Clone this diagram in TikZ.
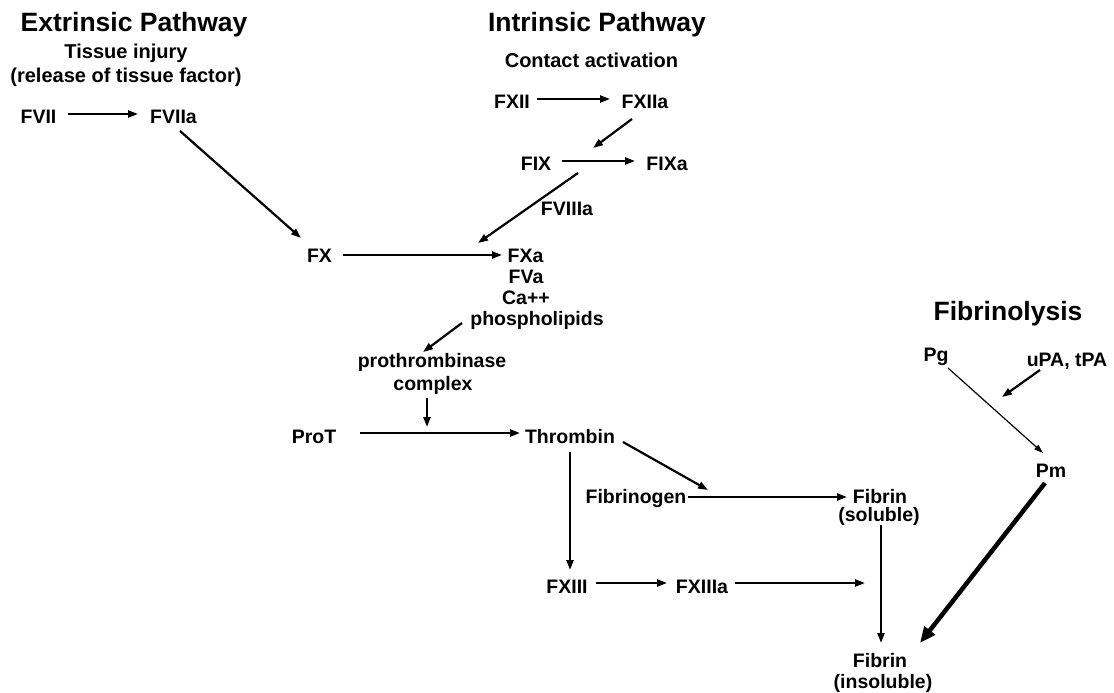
\documentclass[tikz,border=0pt]{standalone}
\usepackage{fontspec}
\setmainfont{Liberation Sans}
\usetikzlibrary{arrows.meta}
\tikzset{
  lbl/.style={font=\fontsize{19.5}{20}\selectfont\bfseries, inner sep=0pt, text height=14pt, text depth=0pt, anchor=base},
  ttl/.style={font=\fontsize{26.5}{28}\selectfont\bfseries, inner sep=0pt, anchor=base},
  sub/.style={font=\fontsize{20}{22}\selectfont\bfseries, inner sep=0pt, anchor=base},
  arr/.style={line width=2.2pt, -{Triangle[length=10pt,width=7pt]}},
  thinarr/.style={line width=1.2pt, -{Triangle[length=9pt,width=6pt]}},
  thickarr/.style={line width=4.5pt, -{Triangle[length=16pt,width=13pt]}},
}
\begin{document}
\begin{tikzpicture}[x=1pt,y=-1pt]
\useasboundingbox[fill=white] (0,0) rectangle (1114,693);
% titles
\node[ttl] (ext) at (134,32) {Extrinsic Pathway};
\node[sub] (tis) at (126,59) {Tissue injury};
\node[sub] (rel) at (126,83) {(release of tissue factor)};
\node[ttl] (intr) at (597,32) {Intrinsic Pathway};
\node[sub] (con) at (591.5,67) {Contact activation};
\node[ttl] (fibl) at (1008,320) {Fibrinolysis};
% labels
\node[lbl] (fvii) at (38.5,123) {FVII};
\node[lbl] (fviia) at (173.5,123) {FVIIa};
\node[lbl] (fxii) at (512,108) {FXII};
\node[lbl] (fxiia) at (645,108) {FXIIa};
\node[lbl] (fix) at (536,170) {FIX};
\node[lbl] (fixa) at (667,170) {FIXa};
\node[lbl] (fviiia) at (567,215) {FVIIIa};
\node[lbl] (fx) at (319.5,262) {FX};
\node[lbl] (fxa) at (525.5,262) {FXa};
\node[lbl] (fva) at (526,283) {FVa};
\node[lbl] (ca) at (526,304) {Ca++};
\node[lbl] (phos) at (537,325) {phospholipids};
\node[lbl] (proth) at (432,367) {prothrombinase};
\node[lbl] (cplx) at (433,390) {complex};
\node[lbl] (prot) at (314,443) {ProT};
\node[lbl] (thr) at (570,443) {Thrombin};
\node[lbl] (fbg) at (636,503) {Fibrinogen};
\node[lbl] (fbs1) at (880,503) {Fibrin};
\node[lbl] (fbs2) at (879,521) {(soluble)};
\node[lbl] (fxiii) at (567,593) {FXIII};
\node[lbl] (fxiiia) at (702,593) {FXIIIa};
\node[lbl] (fbi1) at (880,667) {Fibrin};
\node[lbl] (fbi2) at (883,688) {(insoluble)};
\node[lbl] (pg) at (936,361) {Pg};
\node[lbl] (upa) at (1067,366) {uPA, tPA};
\node[lbl] (pm) at (1051,477) {Pm};
% free ends
\coordinate (c1) at (593,148);
\coordinate (c4) at (427,427);
\coordinate (c5) at (708,490);
\coordinate (c6) at (865,583);
\coordinate (c7) at (1002,397);
% connectors
\draw[arr] ([shift={(29.5,-2)}]fvii.center) -- ([shift={(-35.5,-2)}]fviia.center);
\draw[arr] ([shift={(6.5,15)}]fviia.center) -- ([shift={(-18.5,-17)}]fx.center);
\draw[arr] ([shift={(23.5,0)}]fx.center) -- ([shift={(-23.5,0)}]fxa.center);
\draw[arr] ([shift={(25,-2)}]fxii.center) -- ([shift={(-35,-2)}]fxiia.center);
\draw[arr] ([shift={(-13,18)}]fxiia.center) -- (c1);
\draw[arr] ([shift={(26,-2)}]fix.center) -- ([shift={(-32,-2)}]fixa.center);
\draw[arr] ([shift={(42,10)}]fix.center) -- ([shift={(-47.5,-12)}]fxa.center);
\draw[arr] ([shift={(-75,5)}]phos.center) -- ([shift={(-9,-8)}]proth.center);
\draw[arr] ([shift={(-6,15)}]cplx.center) -- (c4);
\draw[arr] ([shift={(46,-3)}]prot.center) -- ([shift={(-50,-3)}]thr.center);
\draw[arr] ([shift={(53,6)}]thr.center) -- (c5);
\draw[arr] ([shift={(0,16)}]thr.center) -- ([shift={(3,-16)}]fxiii.center);
\draw[arr] ([shift={(52,1)}]fbg.center) -- ([shift={(-33,1)}]fbs1.center);
\draw[arr] ([shift={(2,11)}]fbs2.center) -- ([shift={(1,-17)}]fbi1.center);
\draw[arr] ([shift={(29,-3)}]fxiii.center) -- ([shift={(-35,-3)}]fxiiia.center);
\draw[arr] ([shift={(33,-3)}]fxiiia.center) -- (c6);
\draw[arr] ([shift={(-27,11)}]upa.center) -- (c7);
\draw[thinarr] ([shift={(12,14)}]pg.center) -- ([shift={(-8,-17)}]pm.center);
\draw[thickarr] ([shift={(-6,13)}]pm.center) -- ([shift={(40,-17)}]fbi1.center);
\end{tikzpicture}
\end{document}
